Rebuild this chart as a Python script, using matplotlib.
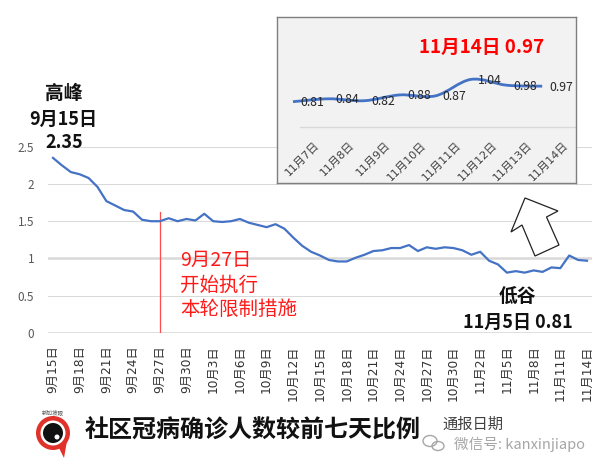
import numpy as np
import matplotlib
matplotlib.use("Agg")
import matplotlib.pyplot as plt
from matplotlib.path import Path
from matplotlib.patches import PathPatch, Polygon, Circle, Ellipse
from matplotlib.transforms import IdentityTransform

plt.rcParams['font.family'] = ['Noto Sans CJK SC', 'DejaVu Sans']

W, H = 601, 469

# ---------------- data ----------------
ratio = [2.35, 2.25, 2.16, 2.13, 2.08, 1.96, 1.77, 1.71, 1.65, 1.63,
         1.52, 1.50, 1.50, 1.54, 1.50, 1.53, 1.51, 1.60, 1.50, 1.49,
         1.50, 1.53, 1.48, 1.45, 1.42, 1.46, 1.40, 1.28, 1.17, 1.09,
         1.04, 0.98, 0.96, 0.96, 1.01, 1.05, 1.10, 1.11, 1.14, 1.14,
         1.18, 1.10, 1.15, 1.13, 1.15, 1.14, 1.11, 1.05, 1.09, 0.97,
         0.92, 0.81, 0.83, 0.81, 0.84, 0.82, 0.88, 0.87, 1.04, 0.98,
         0.97]
tick_labels = ["9月15日", "9月18日", "9月21日", "9月24日", "9月27日", "9月30日",
               "10月3日", "10月6日", "10月9日", "10月12日", "10月15日", "10月18日",
               "10月21日", "10月24日", "10月27日", "10月30日", "11月2日", "11月5日",
               "11月8日", "11月11日", "11月14日"]
tick_step = 3
yticks = [0, 0.5, 1, 1.5, 2, 2.5]
ytick_labels = ["0", "0.5", "1", "1.5", "2", "2.5"]

inset_labels = ["11月7日", "11月8日", "11月9日", "11月10日", "11月11日",
                "11月12日", "11月13日", "11月14日"]
inset_values = [0.81, 0.84, 0.82, 0.88, 0.87, 1.04, 0.98, 0.97]

policy_index = 12      # 9月27日
policy_line_top = 1.62

LINE_BLUE = '#4472c4'
MIXED = ['DejaVu Sans', 'Noto Sans CJK SC']


def fx(x):
    return x / W


def fy(y):
    return 1 - y / H


def smooth_path(xs, ys):
    pts = np.column_stack([xs, ys]).astype(float)
    P = np.vstack([pts[0], pts, pts[-1]])
    verts = [tuple(pts[0])]
    codes = [Path.MOVETO]
    for i in range(1, len(P) - 2):
        p0, p1, p2, p3 = P[i - 1], P[i], P[i + 1], P[i + 2]
        c1 = p1 + (p2 - p0) / 6.0
        c2 = p2 - (p3 - p1) / 6.0
        verts += [tuple(c1), tuple(c2), tuple(p2)]
        codes += [Path.CURVE4] * 3
    return Path(verts, codes)


fig = plt.figure(figsize=(W / 100, H / 100), dpi=100)
fig.patch.set_facecolor('white')

# ---------------- main chart ----------------
ax = fig.add_axes([fx(48), fy(333), 544 / W, (333 - 146.7) / H])
x = np.arange(len(ratio))
ax.set_xlim(-0.56, len(ratio) - 1 + 0.56)
ax.set_ylim(0, 2.5)
for s in ax.spines.values():
    s.set_visible(False)
for yv in yticks:
    lw = 0.75
    if yv == 1:
        lw = 1.8
    elif yv == 0:
        lw = 1.2
    ax.axhline(yv, color='#d9d9d9', lw=lw, zorder=0)

ax.plot([policy_index, policy_index], [0, policy_line_top], color='#ff4d4d', lw=0.9, zorder=1)
ax.plot(x, ratio, color=LINE_BLUE, lw=1.6, zorder=3, solid_joinstyle='round')

ax.set_xticks(np.arange(0, len(ratio), tick_step))
ax.set_xticklabels(tick_labels, rotation=90, fontsize=8.8, color='#333333', family=MIXED)
ax.set_yticks(yticks)
ax.set_yticklabels(ytick_labels, fontsize=8.5, color='#595959')
ax.tick_params(axis='x', length=0, pad=9)
ax.tick_params(axis='y', length=0, pad=10)

# annotations
fig.text(fx(64), fy(93), "高峰", ha='center', va='center', fontsize=13.5, fontweight='bold', color='#111111')
fig.text(fx(63), fy(119), "9月15日", ha='center', va='center', fontsize=13, fontweight='bold', color='#111111')
fig.text(fx(64), fy(142), "2.35", ha='center', va='center', fontsize=13, fontweight='bold', color='#111111')

fig.text(fx(180), fy(285), "9月27日\n开始执行\n本轮限制措施", ha='left', va='center',
         fontsize=14, color='#ff1a1a', linespacing=1.2)

fig.text(fx(517), fy(297), "低谷", ha='center', va='center', fontsize=13.5, fontweight='bold', color='#111111')
fig.text(fx(518), fy(322), "11月5日 0.81", ha='center', va='center', fontsize=13, fontweight='bold', color='#111111')

# block arrow (decoration)
arrow_pts = [(525, 198), (558, 211), (546.5, 217), (559, 245), (535, 256), (522, 225), (511, 232)]
fig.patches.append(Polygon([(px, H - py) for px, py in arrow_pts], closed=True,
                           facecolor='white', edgecolor='#222222', lw=0.9,
                           transform=IdentityTransform(), figure=fig, zorder=5))

# ---------------- inset ----------------
ax2 = fig.add_axes([fx(277), fy(183), 299 / W, 166 / H])
ax2.set_facecolor('#f2f2f2')
for s in ax2.spines.values():
    s.set_color('#7f7f7f')
    s.set_linewidth(1.0)
ax2.set_xticks([])
ax2.set_yticks([])
ax2.set_xlim(-0.449, 7.95)
ax2.set_ylim(-0.028, 1.683)
ax2.axhline(0.546, xmin=0.077, xmax=0.997, color='#d9d9d9', lw=1.0)
xi = np.arange(len(inset_values))
ax2.add_patch(PathPatch(smooth_path(xi, inset_values), facecolor='none',
                        edgecolor=LINE_BLUE, lw=2.0, zorder=3))
for k, v in enumerate(inset_values):
    ax2.annotate(f"{v:.2f}", (k, v), xytext=(19, -1), textcoords='offset pixels',
                 ha='center', va='center', fontsize=8.8, color='#262626', zorder=4)
for k, lab in enumerate(inset_labels):
    ax2.text(k + 0.78, 0.42, lab, rotation=45, ha='right', va='top',
             fontsize=8, color='#404040', family=MIXED)
fig.text(fx(482), fy(47), "11月14日 0.97", ha='center', va='center', fontsize=13.5,
         fontweight='bold', color='#ff0000')

# ---------------- footer ----------------
fig.text(fx(85), fy(431), "社区冠病确诊人数较前七天比例", ha='left', va='center',
         fontsize=17.3, fontweight='bold', color='#111111')
fig.text(fx(442), fy(424), "通报日期", ha='left', va='center', fontsize=11, color='#404040')
fig.text(fx(454), fy(444), "微信号: kanxinjiapo", ha='left', va='center', fontsize=10.5, color='#a6a6a6')

# wechat icon
for cx, cy, rw, rh in [(430, 441, 14, 11), (438, 446, 12, 9)]:
    fig.patches.append(Ellipse((cx, H - cy), rw, rh, facecolor='none', edgecolor='#a6a6a6',
                               lw=1.0, transform=IdentityTransform(), figure=fig))

# logo
T = IdentityTransform()
fig.patches.append(Polygon([(57, H - 444), (64, H - 458), (67, H - 441)], closed=True,
                           facecolor='#e0312b', edgecolor='none', transform=T, figure=fig))
fig.patches.append(Circle((53, H - 433), 17, facecolor='#e0312b', edgecolor='none', transform=T, figure=fig))
fig.patches.append(Circle((53, H - 433), 12.5, facecolor='white', edgecolor='none', transform=T, figure=fig))
fig.patches.append(Circle((53, H - 433), 10, facecolor='#111111', edgecolor='none', transform=T, figure=fig))
fig.patches.append(Circle((57, H - 437), 2.5, facecolor='white', edgecolor='none', transform=T, figure=fig))
fig.text(fx(53), fy(413), "新加坡眼", ha='center', va='center', fontsize=4, color='#555555')

fig.savefig("out.png", dpi=100)
